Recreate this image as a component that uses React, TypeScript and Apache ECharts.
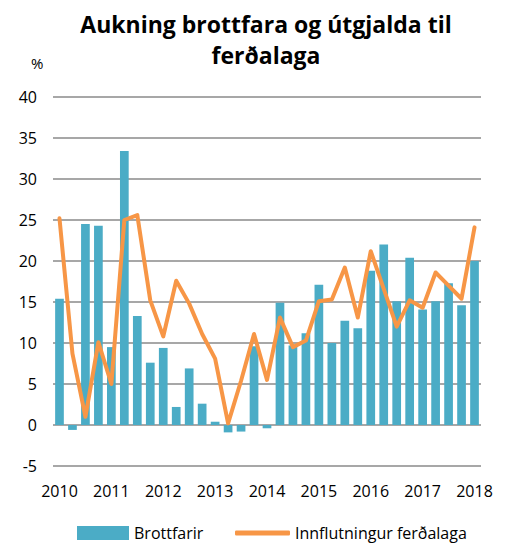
import React, { useEffect, useRef } from "react";
import * as echarts from "echarts";

const quarters: string[] = [];
for (const y of [2010, 2011, 2012, 2013, 2014, 2015, 2016, 2017]) {
  for (const q of [1, 2, 3, 4]) quarters.push(`${y}K${q}`);
}
quarters.push("2018K1");

const brottfarir = [
  15.4, -0.6, 24.5, 24.3, 9.5, 33.4, 13.3, 7.6, 9.4, 2.2, 6.9, 2.6, 0.4, -0.9,
  -0.8, 9.6, -0.4, 14.9, 9.7, 11.2, 17.1, 10.0, 12.7, 11.8, 18.8, 22.0, 15.1,
  20.4, 14.1, 15.1, 17.3, 14.6, 20.0,
];

const innflutningur = [
  25.2, 8.7, 1.0, 10.1, 5.0, 25.0, 25.6, 15.2, 10.8, 17.6, 14.8, 11.1, 8.1, 0.2,
  5.4, 11.1, 5.5, 13.1, 9.5, 10.3, 15.1, 15.3, 19.2, 13.1, 21.2, 16.6, 12.0,
  15.2, 14.3, 18.6, 17.0, 15.4, 24.1,
];

const seriesNames = ["Brottfarir", "Innflutningur ferðalaga"];
const titleText = "Aukning brottfara og útgjalda til\nferðalaga";
const unitLabel = "%";

const FONT = "'Open Sans', sans-serif";

export default function App() {
  const ref = useRef<HTMLDivElement>(null);
  useEffect(() => {
    if (!ref.current) return;
    const chart = echarts.init(ref.current, null, { renderer: "svg" });
    chart.setOption({
      animation: false,
      backgroundColor: "#fff",
      title: {
        text: titleText,
        left: 261,
        textAlign: "center",
        top: 3,
        textStyle: {
          fontFamily: FONT,
          fontSize: 23,
          fontWeight: "bold",
          color: "#000",
          lineHeight: 31,
        },
      },
      graphic: [
        {
          type: "text",
          left: 31,
          top: 55,
          style: { text: unitLabel, font: `15px ${FONT}`, fill: "#000" },
        },
      ],
      legend: [
        {
          data: [{ name: seriesNames[0], icon: "rect" }],
          left: 72,
          top: 519,
          itemWidth: 52,
          itemHeight: 14,
          itemGap: 6,
          textStyle: { fontFamily: FONT, fontSize: 16, color: "#000", lineHeight: 18 },
        },
        {
          data: [{ name: seriesNames[1], icon: "roundRect" }],
          left: 230,
          top: 519,
          itemWidth: 55,
          itemHeight: 5,
          itemGap: 6,
          textStyle: { fontFamily: FONT, fontSize: 16, color: "#000", lineHeight: 18 },
        },
      ],
      grid: { left: 53, right: 25, top: 97, bottom: 78 },
      xAxis: {
        type: "category",
        data: quarters,
        axisLine: { show: false },
        axisTick: { show: false },
        axisLabel: {
          interval: 3,
          formatter: (v: string) => v.slice(0, 4),
          fontFamily: FONT,
          fontSize: 16,
          color: "#000",
          margin: 17,
        },
      },
      yAxis: {
        type: "value",
        min: -5,
        max: 40,
        interval: 5,
        axisLine: { show: false },
        axisTick: { show: false },
        axisLabel: { fontFamily: FONT, fontSize: 16, color: "#000", margin: 16 },
        splitLine: { lineStyle: { color: "#8a8a8a", width: 1.5 } },
      },
      series: [
        {
          name: seriesNames[0],
          type: "bar",
          data: brottfarir,
          barWidth: 8.7,
          itemStyle: { color: "#4bacc6" },
        },
        {
          name: seriesNames[1],
          type: "line",
          data: innflutningur,
          showSymbol: false,
          symbol: "none",
          lineStyle: { color: "#f79646", width: 4, cap: "round", join: "round" },
          itemStyle: { color: "#f79646" },
          z: 3,
        },
      ],
    });
    return () => chart.dispose();
  }, []);
  return (
    <div
      ref={ref}
      style={{ position: "fixed", left: 0, top: 0, width: 506, height: 544 }}
    />
  );
}
